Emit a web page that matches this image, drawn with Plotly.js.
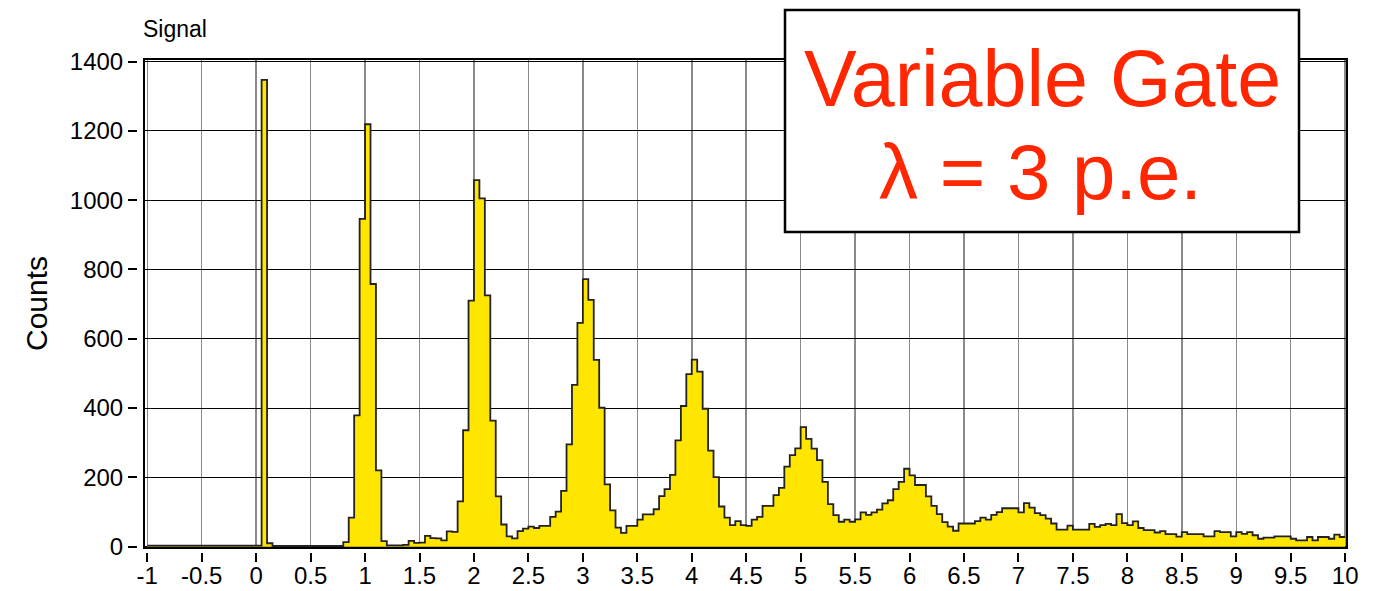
<!DOCTYPE html>
<html>
<head>
<meta charset="utf-8">
<script src="https://cdn.plot.ly/plotly-3.0.1.min.js"></script>
<style>html,body{margin:0;padding:0;background:#fff;}#chart{width:1375px;height:591px;}</style>
</head>
<body>
<div id="chart"></div>
<script>
// Histogram binning: 220 bins of width 0.05 starting at -1
const binStart = -1;
const binWidth = 0.05;
const binEnd = 10;

// Counts per bin
const countsNeg = [3,3,3,3,3,3,3,3,3,3,3,3,3,3,3,3,3,3,3,3,3]; // -1.00 .. 0.00
const countsPed = [1347,10,2,2,2,2,2,2,2,2,2,2,2,2,2]; // 0.05 .. 0.75
const counts1 = [13,84,379,946,1219,758,220,16,4,4,4,5,17,11,12,31,25,24,18,44,43,131,336,710]; // 0.80 .. 1.95
const counts2 = [1058,1005,725,364,145,64,30,24,45,52,58,54,60,60,86,101,161,295,467,646]; // 2.00 .. 2.95
const counts3 = [772,712,539,401,180,105,55,40,60,60,78,93,93,108,146,166,207,307,406,498]; // 3.00 .. 3.95
const counts4 = [540,505,398,277,201,116,84,62,74,62,60,78,86,118,118,149,170,231,264,284]; // 4.00 .. 4.95
const counts5 = [345,311,283,250,187,123,91,72,78,72,79,99,92,99,107,125,134,166,187,225]; // 5.00 .. 5.95
const counts6 = [206,178,178,145,118,94,71,58,46,67,67,67,74,84,78,92,100,111,111,111]; // 6.00 .. 6.95
const counts7 = [99,126,113,97,91,81,67,49,49,61,49,49,49,66,57,62,66,62,94,68]; // 7.00 .. 7.95
const counts8 = [62,73,54,48,48,41,45,36,36,29,42,36,36,36,30,30,45,42,42,30]; // 8.00 .. 8.95
const counts9 = [42,37,42,33,23,26,26,30,30,30,23,18,18,28,18,28,28,23,35,28]; // 9.00 .. 9.95

const counts = [].concat(countsNeg, countsPed, counts1, counts2, counts3, counts4, counts5, counts6, counts7, counts8, counts9);

const xTickVals = [-1,-0.5,0,0.5,1,1.5,2,2.5,3,3.5,4,4.5,5,5.5,6,6.5,7,7.5,8,8.5,9,9.5,10];
const xTickText = ["-1","-0.5","0","0.5","1","1.5","2","2.5","3","3.5","4","4.5","5","5.5","6","6.5","7","7.5","8","8.5","9","9.5","10"];
const yTickVals = [0,200,400,600,800,1000,1200,1400];
const yTickText = ["0","200","400","600","800","1000","1200","1400"];

const titleText = "Signal";
const yTitle = "Counts";
const boxLine1 = "Variable Gate";
const boxLine2 = "λ = 3 p.e.";

// step outline: left edges + closing edge
const xs = counts.map((_, i) => binStart + i * binWidth);
xs.push(binEnd);
const ys = counts.slice();
ys.push(counts[counts.length - 1]);

const W = 1375, H = 591;
const M = {l: 137, r: 28, t: 59, b: 39};
const pw = W - M.l - M.r, ph = H - M.t - M.b;
const px = v => (v - M.l) / pw;
const py = v => (H - M.b - v) / ph;

const FONT = "Liberation Sans, Arial, Helvetica, sans-serif";

const trace = {
  type: "scatter", mode: "lines", x: xs, y: ys,
  line: {shape: "hv", color: "#222222", width: 1.8},
  fill: "tozeroy", fillcolor: "#FFE600",
  hoverinfo: "skip", showlegend: false
};

const layout = {
  width: W, height: H,
  margin: M,
  paper_bgcolor: "#ffffff", plot_bgcolor: "#ffffff",
  showlegend: false,
  font: {family: FONT, color: "#000"},
  xaxis: {
    domain: [7 / pw, 1],
    anchor: "free", position: 0,
    range: [-1.03, 10.017],
    tickvals: xTickVals, ticktext: xTickText,
    ticks: "outside", ticklen: 9, tickwidth: 2, tickcolor: "#000",
    ticklabelstandoff: -7,
    tickfont: {family: FONT, size: 24, color: "#000"},
    showgrid: true, gridcolor: "#8a8a8a", gridwidth: 1.5,
    zeroline: false, showline: false
  },
  yaxis: {
    domain: [4 / ph, 1],
    anchor: "free", position: 0,
    range: [-3.75, 1407.3],
    tickvals: yTickVals, ticktext: yTickText,
    ticks: "outside", ticklen: 9, tickwidth: 2, tickcolor: "#000",
    tickfont: {family: FONT, size: 24, color: "#000"},
    showgrid: true, gridcolor: "#000", gridwidth: 1,
    zeroline: false, showline: false,
    title: {text: yTitle, font: {family: FONT, size: 30, color: "#000"}, standoff: 12}
  },
  shapes: [
    {type: "rect", xref: "x domain", yref: "y domain", x0: 0, x1: 1, y0: 0, y1: 1,
     line: {color: "#000", width: 2}, fillcolor: "rgba(0,0,0,0)", layer: "above"},
    {type: "rect", xref: "paper", yref: "paper", x0: px(785), x1: px(1299), y0: py(232), y1: py(10),
     line: {color: "#000", width: 2.5}, fillcolor: "#ffffff", layer: "above"}
  ],
  annotations: [
    {xref: "paper", yref: "paper", x: px(175), y: py(29), xanchor: "center", yanchor: "middle",
     text: titleText, showarrow: false, font: {family: FONT, size: 23, color: "#000"}},
    {xref: "paper", yref: "paper", x: px(1042), y: py(78), xanchor: "center", yanchor: "middle",
     text: boxLine1, showarrow: false, font: {family: FONT, size: 79, color: "#FF2600"}},
    {xref: "paper", yref: "paper", x: px(1040), y: py(172), xanchor: "center", yanchor: "middle",
     text: boxLine2, showarrow: false, font: {family: FONT, size: 78, color: "#FF2600"}}
  ]
};

Plotly.newPlot("chart", [trace], layout, {staticPlot: true, displayModeBar: false});
</script>
</body>
</html>
